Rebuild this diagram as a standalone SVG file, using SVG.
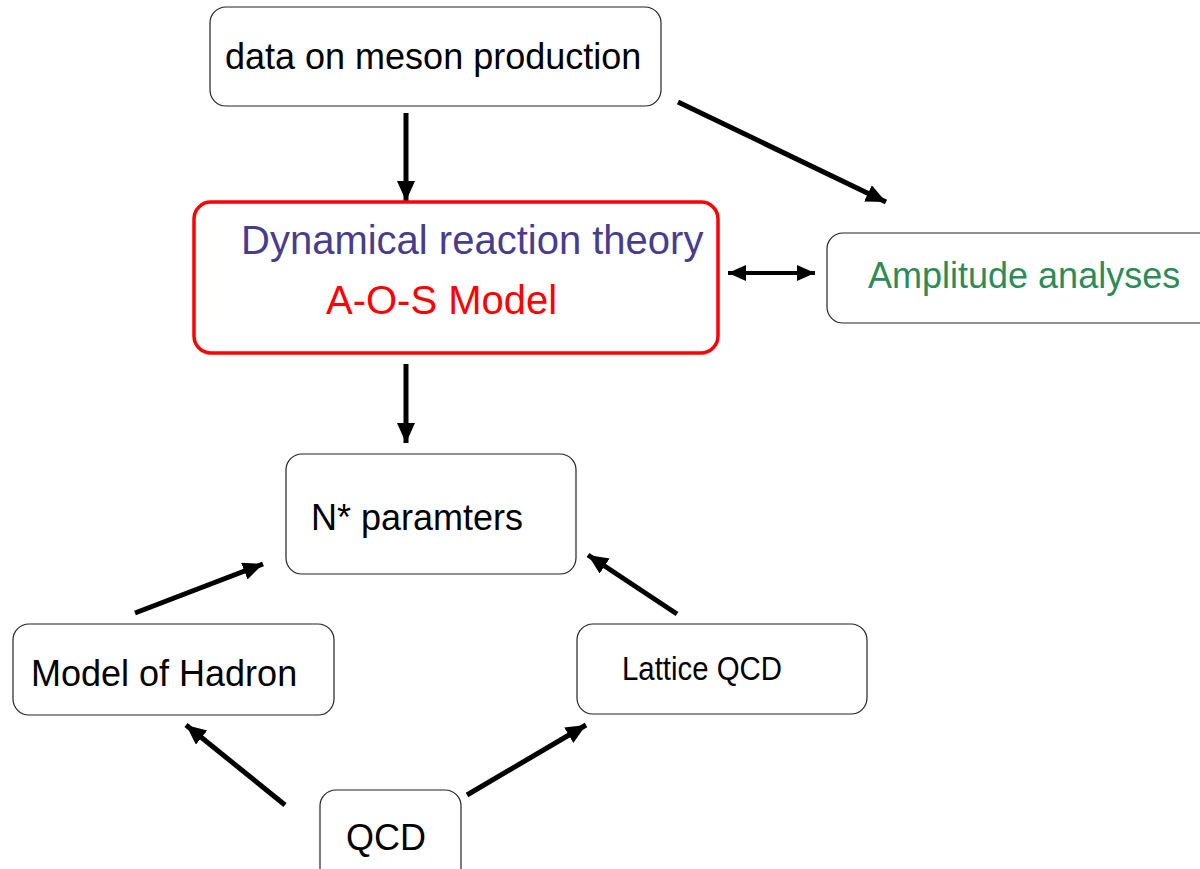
<svg xmlns="http://www.w3.org/2000/svg" width="1200" height="869" viewBox="0 0 1200 869">
<style>
.box{fill:#fff;stroke:#222;stroke-width:1.2}
.red{fill:#fff;stroke:#ff0000;stroke-width:3.5}
.t{font-family:"Liberation Sans",Arial,sans-serif;font-size:36px;fill:#000}
.c{stroke:#000;stroke-width:5;fill:none}
.c2{stroke:#000;stroke-width:4;fill:none}
</style>
<defs>
<marker id="ah" markerUnits="userSpaceOnUse" markerWidth="22" markerHeight="20" refX="20" refY="9" orient="auto">
<path d="M0,0 L20,9 L0,18 z" fill="#000"/>
</marker>
<marker id="ah2" markerUnits="userSpaceOnUse" markerWidth="20" markerHeight="18" refX="18" refY="8" orient="auto-start-reverse">
<path d="M0,0 L18,8 L0,16 z" fill="#000"/>
</marker>
</defs>
<rect width="1200" height="869" fill="#fff"/>
<g id="connectors">
<line class="c" x1="406" y1="113" x2="406" y2="201" marker-end="url(#ah)"/>
<line class="c" x1="678" y1="102" x2="886" y2="202" marker-end="url(#ah)"/>
<line class="c2" x1="728" y1="273" x2="815" y2="273" marker-start="url(#ah2)" marker-end="url(#ah2)"/>
<line class="c" x1="406" y1="364" x2="406" y2="443" marker-end="url(#ah)"/>
<line class="c" x1="135" y1="613" x2="263" y2="564" marker-end="url(#ah)"/>
<line class="c" x1="677" y1="614" x2="588" y2="555" marker-end="url(#ah)"/>
<line class="c" x1="285" y1="805" x2="186" y2="725" marker-end="url(#ah)"/>
<line class="c" x1="467" y1="795" x2="586" y2="725" marker-end="url(#ah)"/>
</g>
<g id="data">
<rect class="box" x="210" y="7" width="451" height="99" rx="16"/>
<text class="t" x="225" y="69">data on meson production</text>
</g>
<g id="dynamical">
<rect class="red" x="194" y="202" width="524" height="151" rx="17"/>
<text class="t" x="241" y="254" style="font-size:40px;fill:#483d8b">Dynamical reaction theory</text>
<text class="t" x="326" y="314" style="font-size:40px;fill:#ff0000">A-O-S Model</text>
</g>
<g id="amplitude">
<rect class="box" x="827" y="233" width="390" height="90" rx="16"/>
<text class="t" x="868" y="288" style="fill:#2e8b57">Amplitude analyses</text>
</g>
<g id="nstar">
<rect class="box" x="286" y="454" width="290" height="120" rx="16"/>
<text class="t" x="311" y="530">N* paramters</text>
</g>
<g id="hadron">
<rect class="box" x="13" y="624" width="321" height="91" rx="16"/>
<text class="t" x="31" y="686">Model of Hadron</text>
</g>
<g id="lattice">
<rect class="box" x="577" y="624" width="290" height="90" rx="16"/>
<text class="t" x="622" y="680" style="font-size:33px" textLength="160" lengthAdjust="spacingAndGlyphs">Lattice QCD</text>
</g>
<g id="qcd">
<rect class="box" x="320" y="790" width="141" height="100" rx="16"/>
<text class="t" x="346" y="850">QCD</text>
</g>
</svg>
